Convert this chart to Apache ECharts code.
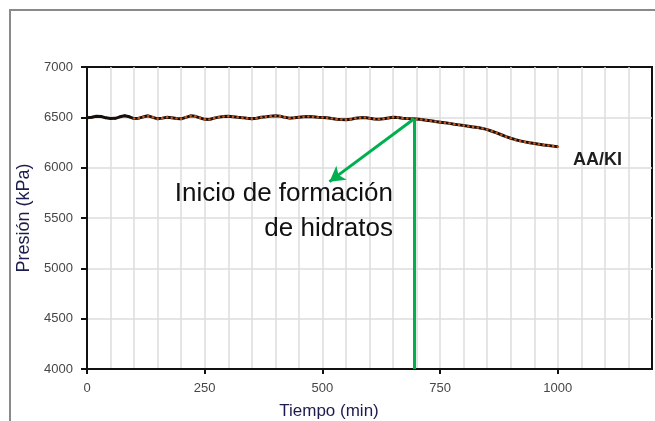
<!DOCTYPE html>
<html>
<head>
<meta charset="utf-8">
<script src="https://cdn.jsdelivr.net/npm/echarts@6/dist/echarts.min.js"></script>
<style>
  html, body { margin: 0; padding: 0; background: #fff; }
  #chart { width: 655px; height: 421px; }
</style>
</head>
<body>
<div id="chart"></div>
<script>
// Pressure log of the AA/KI run, sampled every 10 minutes
const timeMin = [];
for (let t = 0; t <= 1000; t += 10) timeMin.push(t);

const pressureKPa = [
  6495, 6500, 6510, 6508, 6495, 6488, 6490, 6505, 6515, 6505,
  6488, 6492, 6505, 6515, 6500, 6485, 6492, 6500, 6495, 6488,
  6485, 6500, 6515, 6510, 6495, 6480, 6478, 6492, 6502, 6508,
  6510, 6505, 6500, 6497, 6490, 6485, 6490, 6500, 6505, 6512,
  6515, 6512, 6500, 6492, 6495, 6500, 6505, 6508, 6505, 6500,
  6498, 6495, 6488, 6482, 6478, 6476, 6480, 6490, 6495, 6498,
  6490, 6484, 6480, 6486, 6494, 6500, 6498, 6492, 6488, 6487,
  6483, 6478, 6472, 6465, 6458, 6452, 6446, 6440, 6432, 6425,
  6418, 6412, 6405, 6398, 6390, 6378, 6362, 6345, 6327, 6308,
  6292, 6278, 6266, 6256, 6247, 6240, 6233, 6226, 6220, 6214,
  6208
];

const xLabelTicks = [0, 250, 500, 750, 1000];
const yTicks = [4000, 4500, 5000, 5500, 6000, 6500, 7000];

// Hydrate onset marker and the arrow toward its caption
const onsetPoint = [695, 6486];
const arrowTip = [515, 5861];

const seriesLabel = 'AA/KI';
const captionText = 'Inicio de formación\nde hidratos';
const xTitle = 'Tiempo (min)';
const yTitle = 'Presión (kPa)';

const points = timeMin.map((t, i) => [t, pressureKPa[i]]);

const FONT = "'Liberation Sans', Arial, sans-serif";
const green = '#00b050';
const tickColor = '#474747';

const chart = echarts.init(document.getElementById('chart'), null, { renderer: 'canvas' });

chart.setOption({
  animation: false,
  backgroundColor: '#ffffff',
  grid: {
    left: 87, top: 67, right: 3, bottom: 52,
    show: true, borderColor: '#111', borderWidth: 2,
    containLabel: false
  },
  xAxis: [
    {
      // fine grid every 50 min, labels only on the 250 marks
      type: 'value',
      min: 0, max: 1200, interval: 50,
      axisLine: { show: true, onZero: false, lineStyle: { color: '#111', width: 2 } },
      axisTick: { show: false },
      axisLabel: {
        margin: 13, color: tickColor, fontFamily: FONT, fontSize: 13,
        formatter: (v) => (xLabelTicks.indexOf(v) >= 0 ? String(v) : '')
      },
      splitLine: { show: true, showMaxLine: false, lineStyle: { color: '#dcdcdc', width: 1.5 } }
    },
    {
      // tick marks at the labelled positions
      type: 'value', position: 'bottom',
      min: 0, max: 1200, interval: 50,
      axisLine: { show: false, onZero: false },
      axisTick: { show: true, inside: false, length: 5, customValues: xLabelTicks,
                  lineStyle: { color: '#111', width: 2 } },
      axisLabel: { show: false },
      splitLine: { show: false }
    }
  ],
  yAxis: {
    type: 'value',
    min: yTicks[0], max: yTicks[yTicks.length - 1], interval: 500,
    axisLine: { show: true, onZero: false, lineStyle: { color: '#111', width: 2 } },
    axisTick: { show: true, inside: false, length: 6, lineStyle: { color: '#111', width: 2 } },
    axisLabel: { margin: 14, color: tickColor, fontFamily: FONT, fontSize: 13,
                 formatter: (v) => String(v) },
    splitLine: { show: true, showMaxLine: false, lineStyle: { color: '#dcdcdc', width: 1.5 } },
    name: yTitle,
    nameLocation: 'middle',
    nameGap: 49,
    nameRotate: 90,
    nameTextStyle: { color: '#1c1c4e', fontFamily: FONT, fontSize: 18 }
  },
  series: [{
    type: 'line',
    name: seriesLabel,
    xAxisIndex: 0,
    data: points,
    showSymbol: true,
    symbol: 'circle',
    symbolSize: 2.6,
    lineStyle: { color: '#1b0e08', width: 3 },
    itemStyle: {
      color: (p) => (p.value[0] < 100 ? '#111111' : '#c4561f')
    },
    emphasis: { disabled: true },
    z: 3,
    markLine: {
      silent: true,
      animation: false,
      symbol: ['none', 'none'],
      label: { show: false },
      lineStyle: { color: green, width: 3, type: 'solid' },
      emphasis: { disabled: true },
      data: [
        [{ coord: [onsetPoint[0], yTicks[0]] }, { coord: onsetPoint }],
        [{ coord: onsetPoint, symbol: 'none' },
         { coord: arrowTip, symbol: 'arrow', symbolSize: [13, 15] }]
      ]
    }
  }],
  graphic: [
    {
      type: 'rect', silent: true, z: 0,
      shape: { x: 10, y: 10, width: 700, height: 500 },
      style: { fill: 'none', stroke: '#8a8a8a', lineWidth: 2 }
    },
    {
      type: 'text', silent: true, z: 10,
      style: {
        text: captionText, x: 393, y: 176,
        textAlign: 'right', textVerticalAlign: 'top',
        font: '26px ' + FONT, lineHeight: 35, fill: '#111'
      }
    },
    {
      type: 'text', silent: true, z: 10,
      style: {
        text: seriesLabel, x: 573, y: 160,
        textAlign: 'left', textVerticalAlign: 'middle',
        font: 'bold 18px ' + FONT, fill: '#1e1e1e'
      }
    },
    {
      type: 'text', silent: true, z: 10,
      style: {
        text: xTitle, x: 329, y: 411,
        textAlign: 'center', textVerticalAlign: 'middle',
        font: '17px ' + FONT, fill: '#1c1c4e'
      }
    }
  ]
});
</script>
</body>
</html>
